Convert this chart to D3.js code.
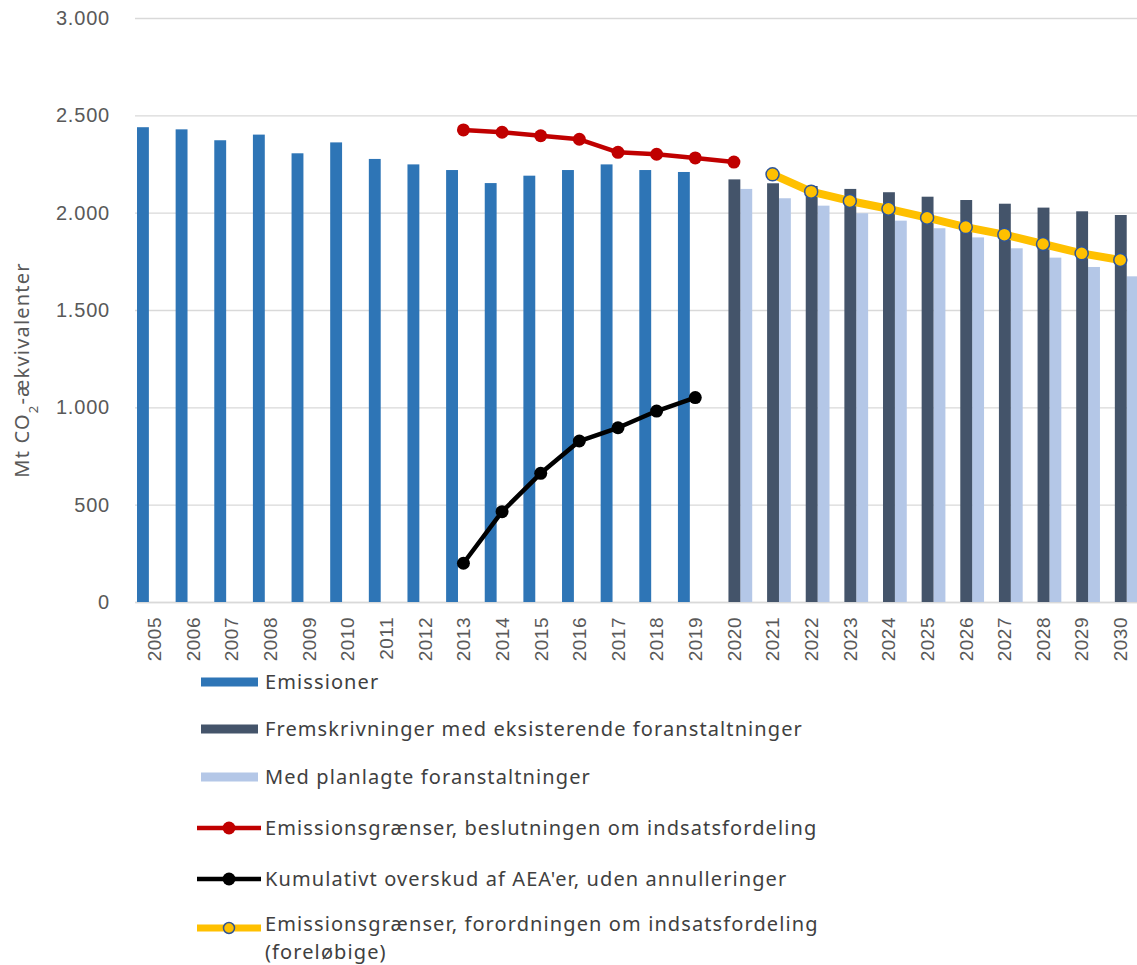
<!DOCTYPE html>
<html>
<head>
<meta charset="utf-8">
<script src="https://cdn.jsdelivr.net/npm/d3@7"></script>
<style>
  body { margin: 0; background: #fff; }
  svg { display: block; font-family: "Noto Sans", sans-serif; }
</style>
</head>
<body>
<svg width="1137" height="965"></svg>
<script>
// Data (Mt CO2-ækvivalenter)
const years = [2005, 2006, 2007, 2008, 2009, 2010, 2011, 2012, 2013, 2014, 2015, 2016, 2017,
               2018, 2019, 2020, 2021, 2022, 2023, 2024, 2025, 2026, 2027, 2028, 2029, 2030];
const yTicks = [0, 500, 1000, 1500, 2000, 2500, 3000];

const emissionYears = [2005, 2006, 2007, 2008, 2009, 2010, 2011, 2012, 2013, 2014, 2015, 2016, 2017, 2018, 2019];
const emissions = [2439, 2428, 2372, 2401, 2305, 2361, 2276, 2248, 2219, 2152, 2190, 2219, 2248, 2219, 2209];

const projYears = [2020, 2021, 2022, 2023, 2024, 2025, 2026, 2027, 2028, 2029, 2030];
const projExisting = [2171, 2151, 2137, 2122, 2105, 2082, 2065, 2046, 2026, 2007, 1988];
const projPlanned = [2122, 2074, 2036, 1997, 1959, 1920, 1873, 1817, 1769, 1721, 1673];

const esdYears = [2013, 2014, 2015, 2016, 2017, 2018, 2019, 2020];
const esdLimits = [2425, 2413, 2395, 2377, 2310, 2300, 2281, 2260];

const surplusYears = [2013, 2014, 2015, 2016, 2017, 2018, 2019];
const surplus = [199, 464, 661, 827, 895, 981, 1050];

const esrYears = [2021, 2022, 2023, 2024, 2025, 2026, 2027, 2028, 2029, 2030];
const esrLimits = [2197, 2108, 2060, 2020, 1974, 1926, 1887, 1839, 1791, 1757];

const legendLabels = [
    "Emissioner",
    "Fremskrivninger med eksisterende foranstaltninger",
    "Med planlagte foranstaltninger",
    "Emissionsgrænser, beslutningen om indsatsfordeling",
    "Kumulativt overskud af AEA'er, uden annulleringer",
    ["Emissionsgrænser, forordningen om indsatsfordeling", "(foreløbige)"]
];

const colors = {
    em: "#2E75B6",
    wem: "#44546A",
    wam: "#B4C7E7",
    esd: "#C00000",
    surplus: "#000000",
    esr: "#FFC000"
};

const svg = d3.select("svg");
const W = 1137;

const x = d3.scaleBand().domain(years).range([135, 1139.6]).padding(0);
const sub = d3.scaleBand().domain(["em", "wem", "wam"]).range([2, x.bandwidth() - 1]);
const y = d3.scaleLinear().domain([0, 3000]).range([602, 18]);

const da = d3.formatLocale({ decimal: ",", thousands: ".", grouping: [3], currency: ["", " kr."] });
const fmt = da.format(",d");

// y grid + labels
const yAxis = svg.append("g")
    .attr("transform", "translate(135,0)")
    .call(d3.axisLeft(y).tickValues(yTicks).tickFormat(fmt).tickSize(-(W - 135)).tickPadding(25));
yAxis.select(".domain").remove();
yAxis.selectAll(".tick line").attr("stroke", "#d9d9d9").attr("stroke-width", 1.3);
yAxis.selectAll(".tick text")
    .attr("fill", "#595959")
    .style("font-size", "20px")
    .style("letter-spacing", "0.8px");

// x labels
const xAxis = svg.append("g")
    .attr("transform", "translate(0,602)")
    .call(d3.axisBottom(x).tickSize(0));
xAxis.select(".domain").attr("stroke", "#d9d9d9").attr("stroke-width", 1.3);
xAxis.selectAll(".tick text")
    .attr("transform", "rotate(-90)")
    .attr("text-anchor", "end")
    .attr("x", -15)
    .attr("y", 0)
    .attr("dy", "0.36em")
    .attr("fill", "#595959")
    .style("font-size", "19px")
    .style("letter-spacing", "0.5px");

// y title
const yTitle = svg.append("text")
    .attr("transform", "translate(29,370) rotate(-90)")
    .attr("text-anchor", "middle")
    .attr("fill", "#595959")
    .style("font-size", "20px")
    .style("letter-spacing", "1.2px");
yTitle.append("tspan").text("Mt CO");
yTitle.append("tspan").attr("baseline-shift", "sub").style("font-size", "13px").text("2");
yTitle.append("tspan").text("-ækvivalenter");

// bars
function drawBars(yrs, vals, key) {
    svg.append("g").selectAll("rect")
        .data(yrs.map((yr, i) => ({ year: yr, value: vals[i] })))
        .join("rect")
        .attr("x", d => x(d.year) + sub(key))
        .attr("width", sub.bandwidth())
        .attr("y", d => y(d.value))
        .attr("height", d => y(0) - y(d.value))
        .attr("fill", colors[key]);
}
drawBars(emissionYears, emissions, "em");
drawBars(projYears, projPlanned, "wam");
drawBars(projYears, projExisting, "wem");

// lines
const line = d3.line()
    .x(d => x(d.year) + x.bandwidth() / 2)
    .y(d => y(d.value));

function drawLine(yrs, vals, color, width, r, markerStroke) {
    const pts = yrs.map((yr, i) => ({ year: yr, value: vals[i] }));
    const g = svg.append("g");
    g.append("path")
        .datum(pts)
        .attr("d", line)
        .attr("fill", "none")
        .attr("stroke", color)
        .attr("stroke-width", width)
        .attr("stroke-linejoin", "round");
    g.selectAll("circle")
        .data(pts)
        .join("circle")
        .attr("cx", d => x(d.year) + x.bandwidth() / 2)
        .attr("cy", d => y(d.value))
        .attr("r", r)
        .attr("fill", color)
        .attr("stroke", markerStroke || "none")
        .attr("stroke-width", markerStroke ? 1.5 : 0);
}
drawLine(esdYears, esdLimits, colors.esd, 4.5, 6.5);
drawLine(surplusYears, surplus, colors.surplus, 4.5, 6.5);
drawLine(esrYears, esrLimits, colors.esr, 8, 6.5, "#2F5597");

// legend
const legendY = [682, 729, 777, 828, 879, 928];
const legendKinds = ["em", "wem", "wam", "esd", "surplus", "esr"];
const legend = svg.append("g");
legendKinds.forEach((k, i) => {
    const cy = legendY[i];
    const row = legend.append("g");
    if (i < 3) {
        row.append("rect").attr("x", 201).attr("y", cy - 4.5).attr("width", 57).attr("height", 9).attr("fill", colors[k]);
    } else {
        row.append("line").attr("x1", 197).attr("x2", 261).attr("y1", cy).attr("y2", cy)
            .attr("stroke", colors[k]).attr("stroke-width", k === "esr" ? 7 : 4.5);
        row.append("circle").attr("cx", 229).attr("cy", cy).attr("r", k === "esr" ? 5.5 : 6.5)
            .attr("fill", colors[k])
            .attr("stroke", k === "esr" ? "#2F5597" : "none").attr("stroke-width", 1.5);
    }
    const lab = [].concat(legendLabels[i]);
    const firstDy = lab.length > 1 ? "0.15em" : "0.36em";
    const t = row.append("text")
        .attr("x", 265).attr("y", cy)
        .attr("fill", "#404040")
        .style("font-size", "20px")
        .style("letter-spacing", "1.1px");
    lab.forEach((s, j) => t.append("tspan").attr("x", 265).attr("dy", j === 0 ? firstDy : "1.38em").text(s));
});
</script>
</body>
</html>
